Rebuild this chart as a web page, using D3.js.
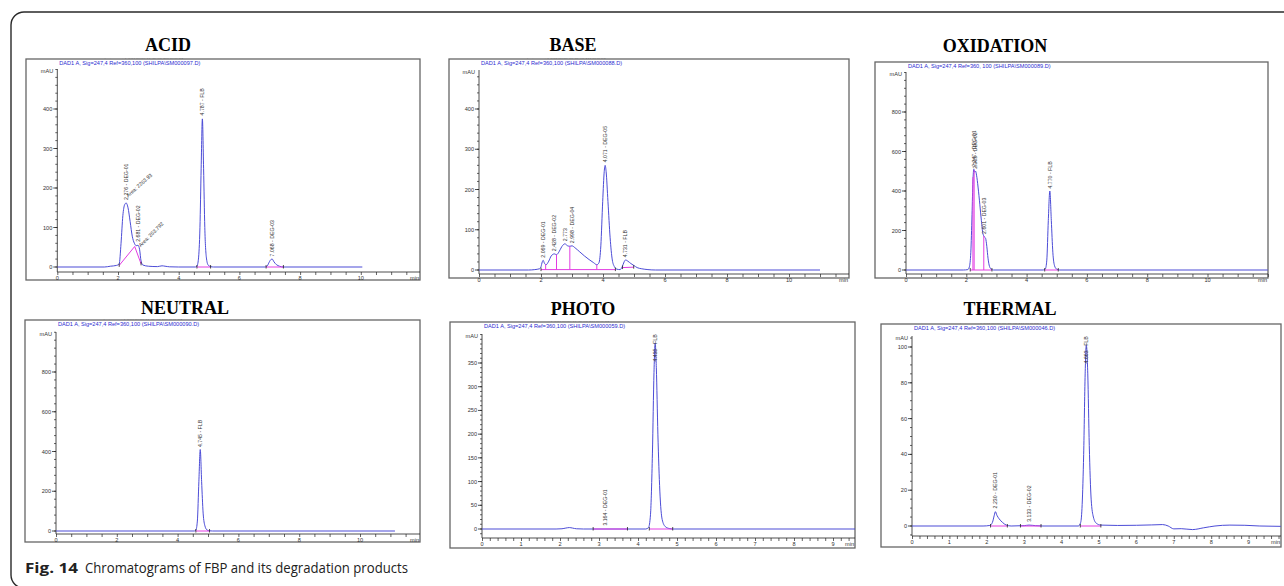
<!DOCTYPE html>
<html>
<head>
<meta charset="utf-8">
<script src="https://cdn.jsdelivr.net/npm/d3@7"></script>
<style>
  body { margin: 0; background: #fff; }
  svg { display: block; }
</style>
</head>
<body>
<script>
// panel names and data file headers
const panelNames = ['ACID', 'BASE', 'OXIDATION', 'NEUTRAL', 'PHOTO', 'THERMAL']
const headerTexts = [
  'DAD1 A, Sig=247,4 Ref=360,100 (SHILPA\\SM000097.D)',
  'DAD1 A, Sig=247,4 Ref=360,100 (SHILPA\\SM000088.D)',
  'DAD1 A, Sig=247,4 Ref=360, 100 (SHILPA\\SM000089.D)',
  'DAD1 A, Sig=247,4 Ref=360,100 (SHILPA\\SM000090.D)',
  'DAD1 A, Sig=247,4 Ref=360,100 (SHILPA\\SM000059.D)',
  'DAD1 A, Sig=247,4 Ref=360,100 (SHILPA\\SM000046.D)'
]

// traces: [time (min), signal (mAU)]
const acidTrace = [[0,0],[1.55,0],[1.75,2],[1.95,4],[2.04,8],[2.1,60],[2.16,130],[2.22,158],[2.27,162],[2.33,150],[2.4,115],[2.47,78],[2.54,60],[2.6,54],[2.66,55],[2.71,45],[2.76,15],[2.82,5],[3.0,2],[3.3,1],[3.45,3],[3.55,2],[3.7,0.5],[4.0,0],
  [4.55,0],[4.6,2],[4.65,20],[4.7,100],[4.74,250],[4.78,375],[4.82,250],[4.86,100],[4.91,25],[4.97,5],[5.05,1],[5.15,0],
  [6.85,0],[6.92,3],[6.98,12],[7.04,19],[7.08,20],[7.14,13],[7.22,6],[7.32,2],[7.45,0],[10.05,0]]
const baseTrace = [[0,0],[1.6,0],[1.8,1],[1.95,3],[2.0,8],[2.04,20],[2.07,24],[2.11,17],[2.16,13],[2.25,22],[2.33,35],[2.43,40],[2.5,38],[2.58,45],[2.67,58],[2.77,65],[2.86,60],[2.93,59],[3.0,60],[3.1,55],[3.25,45],[3.4,35],[3.55,26],[3.7,18],[3.8,13],
  [3.87,18],[3.93,60],[3.99,170],[4.04,245],[4.07,260],[4.1,245],[4.16,170],[4.23,80],[4.3,25],[4.37,8],[4.45,2],[4.55,1],
  [4.62,8],[4.68,20],[4.73,25],[4.8,22],[4.9,16],[5.0,11],[5.1,6],[5.25,3],[5.45,1],[5.7,0],[11.0,0]]
const oxidationTrace = [[0,0],[1.9,0],[2.05,2],[2.1,15],[2.15,90],[2.19,280],[2.22,450],[2.25,510],[2.28,495],[2.31,500],[2.34,480],[2.39,420],[2.45,330],[2.5,250],[2.55,185],[2.6,168],[2.64,160],[2.68,120],[2.72,60],[2.77,18],[2.83,4],[2.9,0],
  [4.55,0],[4.62,5],[4.67,50],[4.72,250],[4.77,400],[4.82,250],[4.87,90],[4.93,20],[5.0,4],[5.1,0],[12,0]]
const neutralTrace = [[0,0],[4.55,0],[4.6,4],[4.65,50],[4.7,250],[4.745,410],[4.79,250],[4.84,90],[4.9,25],[4.97,5],[5.05,1],[5.15,0],[11.15,0]]
const photoTrace = [[0,0],[1.9,0],[2.05,0.5],[2.15,2],[2.24,3],[2.32,2],[2.42,0.5],[2.6,0],[4.2,0],
  [4.27,3],[4.32,30],[4.37,160],[4.41,330],[4.44,392],[4.47,340],[4.51,200],[4.56,80],[4.62,20],[4.7,5],[4.8,1],[4.9,0],[9.6,0]]
const thermalTrace = [[0,0],[1.9,0],[2.08,0.3],[2.15,2],[2.2,6],[2.23,8],[2.27,6],[2.33,4],[2.42,2],[2.52,0.5],[2.65,0],[3.0,0.2],[3.13,0.5],[3.3,0.2],[3.5,0],
  [4.45,0],[4.51,2],[4.55,12],[4.59,40],[4.63,85],[4.66,101],[4.7,85],[4.74,45],[4.79,15],[4.85,5],[4.93,1.5],[5.05,0.5],
  [5.5,0.3],[6.0,0.4],[6.4,0.6],[6.7,0.8],[6.85,0],[7.0,-1.6],[7.2,-1.5],[7.5,-2],[7.8,-1],[8.1,0],[8.5,0.5],[8.9,0.4],[9.3,0],[9.86,-0.2]]

// integration baselines (magenta)
const acidBaselines = [[[2.04,4],[2.55,52],[2.76,8]], [[4.6,0],[5.05,0]], [[6.88,0],[7.45,0]]]
const baseBaselines = [[[2.0,1],[4.4,1]], [[2.15,1],[2.15,14]], [[2.5,1],[2.5,38]], [[2.93,1],[2.93,59]], [[3.8,1],[3.8,13]], [[4.63,6],[4.99,7]]]
const oxidationBaselines = [[[2.13,0],[2.85,0]], [[2.22,0],[2.22,470]], [[2.26,0],[2.26,505]], [[2.58,0],[2.58,172]], [[4.6,0],[5.05,0]]]
const neutralBaselines = [[[4.6,0],[5.05,0]]]
const photoBaselines = [[[2.85,0],[3.73,0]], [[4.29,0],[4.89,0]]]
const thermalBaselines = [[[2.1,0],[2.55,0]], [[2.9,0],[3.45,0]], [[4.5,0],[5.05,0]]]

// peak annotations: [time, signal at text start, text, angle]
const acidLabels = [[2.27,166,'2.276 - DEG-01',-90],[2.34,172,'Area: 2263.93',-42],[2.67,60,'2.681 - DEG-02',-90],[2.75,46,'Area: 263.792',-45],[4.78,380,'4.787 - FLB',-90],[7.07,23,'7.068 - DEG-03',-90]]
const baseLabels = [[2.069,27,'2.069 - DEG-01',-90],[2.428,43,'2.428 - DEG-02',-90],[2.773,68,'2.773',-90],[2.998,63,'2.998 - DEG-04',-90],[4.071,264,'4.071 - DEG-05',-90],[4.731,28,'4.731 - FLB',-90]]
const oxidationLabels = [[2.247,515,'2.247 - DEG-01',-90],[2.31,505,'2.303 - DEG-02',-90],[2.601,175,'2.601 - DEG-03',-90],[4.77,405,'4.770 - FLB',-90]]
const neutralLabels = [[4.745,415,'4.745 - FLB',-90]]
const photoLabels = [[3.164,4,'3.164 - DEG-01',-90],[4.44,350,'4.435 - FLB',-90]]
const thermalLabels = [[2.23,9,'2.230 - DEG-01',-90],[3.133,1.5,'3.133 - DEG-02',-90],[4.66,90,'4.663 - FLB',-90]]

// axis tick labels
const acidYTicks = [0, 100, 200, 300, 400]
const baseYTicks = [0, 100, 200, 300, 400]
const oxidationYTicks = [0, 200, 400, 600, 800]
const neutralYTicks = [0, 200, 400, 600, 800]
const photoYTicks = [0, 50, 100, 150, 200, 250, 300, 350]
const thermalYTicks = [0, 20, 40, 60, 80, 100]
const xTicksWide = [0, 2, 4, 6, 8, 10]
const xTicksNarrow = [0, 1, 2, 3, 4, 5, 6, 7, 8, 9]

const panels = [
  { trace: acidTrace, baselines: acidBaselines, labels: acidLabels, yTicks: acidYTicks, xTicks: xTicksWide },
  { trace: baseTrace, baselines: baseBaselines, labels: baseLabels, yTicks: baseYTicks, xTicks: xTicksWide },
  { trace: oxidationTrace, baselines: oxidationBaselines, labels: oxidationLabels, yTicks: oxidationYTicks, xTicks: xTicksWide },
  { trace: neutralTrace, baselines: neutralBaselines, labels: neutralLabels, yTicks: neutralYTicks, xTicks: xTicksWide },
  { trace: photoTrace, baselines: photoBaselines, labels: photoLabels, yTicks: photoYTicks, xTicks: xTicksNarrow },
  { trace: thermalTrace, baselines: thermalBaselines, labels: thermalLabels, yTicks: thermalYTicks, xTicks: xTicksNarrow }
]

// layout in pixels (frame: x1,y1,x2,y2; x0/x10 px of 0 and 10 min; y0 px of 0, yRef px of top tick)
const layout = [
  { frame: [26, 59, 420, 280], title: [168, 51], x0: 57.3, x10: 360.8, y0: 267, yRef: 109, yTop: 69, xAxisY: 272, xMinor: 0.5, yMinor: 20 },
  { frame: [449, 59, 849, 278], title: [573, 51], x0: 479, x10: 789, y0: 270, yRef: 109, yTop: 70, xAxisY: 274, xMinor: 0.5, yMinor: 20 },
  { frame: [875, 62, 1268, 278], title: [995, 52], x0: 906, x10: 1207.5, y0: 270, yRef: 112, yTop: 72, xAxisY: 274, xMinor: 0.5, yMinor: 40 },
  { frame: [25, 320, 420, 542], title: [185, 314], x0: 56, x10: 360, y0: 531, yRef: 372, yTop: 332, xAxisY: 534, xMinor: 0.5, yMinor: 40 },
  { frame: [450, 322, 855, 548], title: [583, 315], x0: 482, x10: 872, y0: 529, yRef: 363, yTop: 334, xAxisY: 538, xMinor: 0.2, yMinor: 10 },
  { frame: [881, 324, 1281, 547], title: [1010, 315], x0: 912, x10: 1286, y0: 526, yRef: 347, yTop: 336, xAxisY: 536, xMinor: 0.2, yMinor: 5 }
]

const W = 1284, H = 586
const svg = d3.select('body').append('svg').attr('width', W).attr('height', H)

// outer rounded frame
svg.append('rect')
  .attr('x', 11).attr('y', 12).attr('width', 1300).attr('height', 576).attr('rx', 13)
  .attr('fill', 'none').attr('stroke', '#2a2a2a').attr('stroke-width', 1.4)

const smallFont = 'Liberation Sans, Arial, sans-serif'

panels.forEach(function(p, i) {
  const L = layout[i]
  const [fx1, fy1, fx2, fy2] = L.frame
  const pxPerMin = (L.x10 - L.x0) / 10
  const x = d3.scaleLinear().domain([0, (fx2 - L.x0) / pxPerMin]).range([L.x0, fx2])
  const yMaxTick = p.yTicks[p.yTicks.length - 1]
  const y = d3.scaleLinear().domain([0, yMaxTick]).range([L.y0, L.yRef])
  const yLow = y.invert(L.xAxisY), yHigh = y.invert(L.yTop)

  const g = svg.append('g')

  // title
  g.append('text')
    .attr('x', L.title[0]).attr('y', L.title[1])
    .attr('text-anchor', 'middle')
    .attr('font-family', 'Liberation Serif, Times New Roman, serif')
    .attr('font-weight', 'bold').attr('font-size', 18)
    .text(panelNames[i])

  // faint, half-hidden line of text sitting on the frame top
  const fadeId = 'fade' + i
  svg.append('clipPath').attr('id', fadeId)
    .append('rect').attr('x', fx1).attr('y', fy1 - 6).attr('width', fx2 - fx1).attr('height', 6)
  g.append('text')
    .attr('clip-path', 'url(#' + fadeId + ')')
    .attr('x', L.x0 + (fx2 - fx1) * 0.12).attr('y', fy1 + 1.5)
    .attr('font-family', smallFont).attr('font-size', 4)
    .attr('fill', '#9a9a9a')
    .text('Instrument 1 3/11/2020 11:45:08 AM SHILPA')

  // panel frame
  g.append('rect')
    .attr('x', fx1).attr('y', fy1).attr('width', fx2 - fx1).attr('height', fy2 - fy1)
    .attr('fill', 'none').attr('stroke', '#666').attr('stroke-width', 1.3)

  // header
  g.append('text')
    .attr('x', L.x0 + 2).attr('y', fy1 + 5.5)
    .attr('font-family', smallFont).attr('font-size', 5.6)
    .attr('fill', '#2b2bd0')
    .text(headerTexts[i])

  // y axis
  g.append('line')
    .attr('x1', L.x0).attr('x2', L.x0).attr('y1', L.yTop).attr('y2', L.xAxisY)
    .attr('stroke', '#222').attr('stroke-width', 0.8)
  const minorY = d3.range(Math.ceil(yLow / L.yMinor) * L.yMinor, yHigh, L.yMinor)
  g.selectAll('line.ymin').data(minorY).enter().append('line')
    .attr('class', 'ymin')
    .attr('x1', L.x0 - 2).attr('x2', L.x0)
    .attr('y1', d => y(d)).attr('y2', d => y(d))
    .attr('stroke', '#222').attr('stroke-width', 0.7)
  g.selectAll('line.ymaj').data(p.yTicks).enter().append('line')
    .attr('class', 'ymaj')
    .attr('x1', L.x0 - 4).attr('x2', L.x0)
    .attr('y1', d => y(d)).attr('y2', d => y(d))
    .attr('stroke', '#222').attr('stroke-width', 0.8)
  g.selectAll('text.ylab').data(p.yTicks).enter().append('text')
    .attr('class', 'ylab')
    .attr('x', L.x0 - 5).attr('y', d => y(d) + 2)
    .attr('text-anchor', 'end')
    .attr('font-family', smallFont).attr('font-size', 5.6).attr('fill', '#333')
    .text(d => d)
  g.append('text')
    .attr('x', L.x0 - 4).attr('y', L.yTop + 4)
    .attr('text-anchor', 'end')
    .attr('font-family', smallFont).attr('font-size', 5.6).attr('fill', '#333')
    .text('mAU')

  // x axis
  const xAxis = d3.axisBottom(x).tickValues(d3.range(0, x.domain()[1], L.xMinor)).tickSize(3).tickFormat('')
  const xg = g.append('g').attr('transform', 'translate(0,' + L.xAxisY + ')').call(xAxis)
  xg.select('.domain').attr('stroke', '#222').attr('stroke-width', 0.8).attr('d', 'M' + L.x0 + ',0H' + fx2)
  xg.selectAll('.tick line').attr('stroke', '#222').attr('stroke-width', 0.7)
  g.selectAll('text.xlab').data(p.xTicks).enter().append('text')
    .attr('class', 'xlab')
    .attr('x', d => x(d)).attr('y', L.xAxisY + 7.5)
    .attr('text-anchor', 'middle')
    .attr('font-family', smallFont).attr('font-size', 5.6).attr('fill', '#333')
    .text(d => d)
  g.append('text')
    .attr('x', fx2 - 1).attr('y', L.xAxisY + 7.5)
    .attr('text-anchor', 'end')
    .attr('font-family', smallFont).attr('font-size', 5.6).attr('fill', '#333')
    .text('min')

  // clip to frame
  const clipId = 'clip' + i
  svg.append('clipPath').attr('id', clipId)
    .append('rect').attr('x', L.x0).attr('y', fy1).attr('width', fx2 - L.x0).attr('height', L.xAxisY - fy1)

  const plot = g.append('g').attr('clip-path', 'url(#' + clipId + ')')

  // trace
  const line = d3.line().x(d => x(d[0])).y(d => y(d[1])).curve(d3.curveMonotoneX)
  plot.append('path')
    .datum(p.trace)
    .attr('d', line)
    .attr('fill', 'none').attr('stroke', '#4242d4').attr('stroke-width', 0.95)

  // baselines
  const straight = d3.line().x(d => x(d[0])).y(d => y(d[1]))
  plot.selectAll('path.bl').data(p.baselines).enter().append('path')
    .attr('class', 'bl')
    .attr('d', straight)
    .attr('fill', 'none').attr('stroke', '#e23ce2').attr('stroke-width', 1)

  // integration markers at baseline ends
  const ends = []
  p.baselines.forEach(function(b) {
    if (b[0][0] !== b[b.length - 1][0]) { ends.push(b[0]); ends.push(b[b.length - 1]) }
  })
  plot.selectAll('line.mk').data(ends).enter().append('line')
    .attr('class', 'mk')
    .attr('x1', d => x(d[0])).attr('x2', d => x(d[0]))
    .attr('y1', d => y(d[1]) - 2).attr('y2', d => y(d[1]) + 1.5)
    .attr('stroke', '#222').attr('stroke-width', 0.8)

  // peak labels
  g.selectAll('text.pk').data(p.labels).enter().append('text')
    .attr('class', 'pk')
    .attr('transform', d => 'translate(' + (x(d[0]) + (d[3] === -90 ? 1.8 : 0)) + ',' + (y(d[1]) - 1.5) + ') rotate(' + d[3] + ')')
    .attr('font-family', smallFont).attr('font-size', 5.2).attr('fill', '#333')
    .text(d => d[2])
})

// caption
const cap = svg.append('text')
  .attr('y', 573)
  .attr('font-family', 'Open Sans, Noto Sans, sans-serif')
  .attr('font-size', 15).attr('fill', '#222')
cap.append('tspan').attr('x', 25).attr('font-weight', 'bold')
  .attr('textLength', 53).attr('lengthAdjust', 'spacingAndGlyphs')
  .text('Fig. 14')
cap.append('tspan').attr('x', 85)
  .attr('textLength', 323).attr('lengthAdjust', 'spacingAndGlyphs')
  .text('Chromatograms of FBP and its degradation products')
</script>
</body>
</html>
